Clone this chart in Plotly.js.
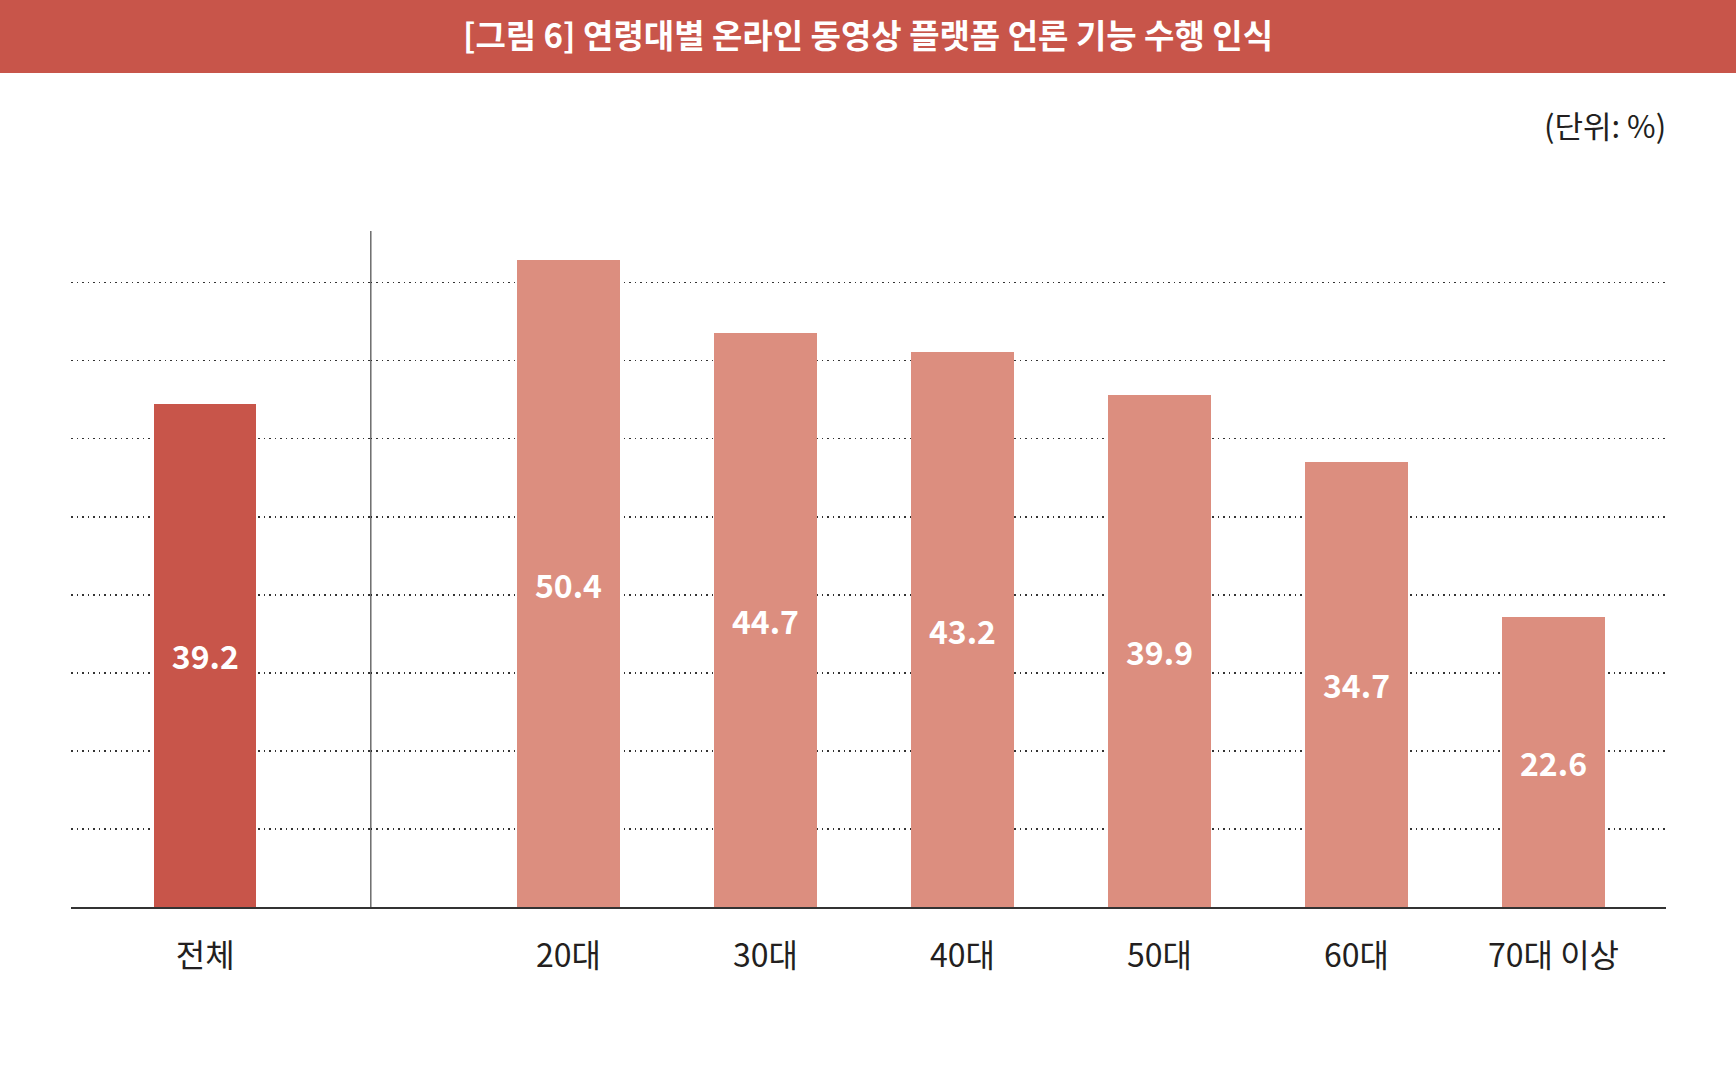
<!DOCTYPE html>
<html>
<head>
<meta charset="utf-8">
<script src="https://cdn.plot.ly/plotly-3.0.1.min.js"></script>
<style>
  html, body { margin: 0; padding: 0; background: #fff; }
  #chart { width: 1736px; height: 1082px; }
</style>
</head>
<body>
<div id="chart"></div>
<script>
// 데이터
const totalLabel = ['전체'];
const totalValue = [39.2];
const ageLabels = ['20대', '30대', '40대', '50대', '60대', '70대 이상'];
const ageValues = [50.4, 44.7, 43.2, 39.9, 34.7, 22.6];

const titleText = '[그림 6] 연령대별 온라인 동영상 플랫폼 언론 기능 수행 인식';
const unitText = '(단위: %)';

const font = '"Noto Sans CJK KR", "Noto Sans", sans-serif';
const darkRed = '#c8554a';
const lightRed = '#dc8e7f';
const split = 0.188;   // 전체 / 연령대 경계

const barText = {
    texttemplate: '<b>%{y:.1f}</b>',
    textposition: 'inside',
    insidetextanchor: 'middle',
    constraintext: 'none',
    textfont: { family: font, size: 32, color: '#ffffff' },
    hoverinfo: 'skip',
    width: 0.52,
    showlegend: false,
};

const data = [
    Object.assign({
        type: 'bar', x: totalLabel, y: totalValue,
        xaxis: 'x', yaxis: 'y',
        marker: { color: darkRed },
    }, barText),
    Object.assign({
        type: 'bar', x: ageLabels, y: ageValues,
        xaxis: 'x2', yaxis: 'y',
        marker: { color: lightRed },
    }, barText),
];

const xCommon = {
    type: 'category',
    showgrid: false,
    zeroline: false,
    showline: true,
    linecolor: '#333',
    linewidth: 2,
    ticks: '',
    ticklabelstandoff: 20,
    tickfont: { family: font, size: 32, color: '#231f20' },
    fixedrange: true,
};

const layout = {
    width: 1736,
    height: 1082,
    margin: { l: 71, r: 70, t: 231, b: 175, pad: 0 },
    paper_bgcolor: '#fff',
    plot_bgcolor: 'rgba(0,0,0,0)',
    bargap: 0,
    title: {
        text: '<b>' + titleText + '</b>',
        font: { family: font, size: 33, color: '#ffffff' },
        x: 0.5, xanchor: 'center',
        y: 1 - 36 / 1082, yanchor: 'middle',
    },
    xaxis: Object.assign({ domain: [0, split], range: [-0.682, 0.841], anchor: 'y' }, xCommon),
    xaxis2: Object.assign({ domain: [split, 1], range: [-1.003, 5.571], anchor: 'y' }, xCommon),
    yaxis: {
        range: [0, 52.66],
        dtick: 6.08,
        tick0: 0,
        showticklabels: false,
        ticks: '',
        showgrid: true,
        gridcolor: '#333',
        gridwidth: 1.5,
        griddash: '1.5px,4px',
        zeroline: false,
        showline: false,
        fixedrange: true,
    },
    shapes: [
        // 제목 띠
        {
            type: 'rect', layer: 'below',
            xref: 'paper', yref: 'paper',
            x0: -0.1, x1: 1.1,
            y0: 1 + (231 - 73) / 676, y1: 1.5,
            fillcolor: darkRed, line: { width: 0 },
        },
        // 전체 / 연령대 구분선
        {
            type: 'line', layer: 'above',
            xref: 'paper', yref: 'paper',
            x0: split, x1: split, y0: 0, y1: 1,
            line: { color: '#222', width: 1 },
        },
    ],
    annotations: [{
        text: unitText,
        xref: 'paper', yref: 'paper',
        x: 1, xanchor: 'right', xshift: 2,
        y: 1 + (231 - 125) / 676, yanchor: 'middle',
        showarrow: false,
        font: { family: font, size: 31, color: '#231f20' },
    }],
};

Plotly.newPlot('chart', data, layout, { displayModeBar: false, staticPlot: true });
</script>
</body>
</html>
